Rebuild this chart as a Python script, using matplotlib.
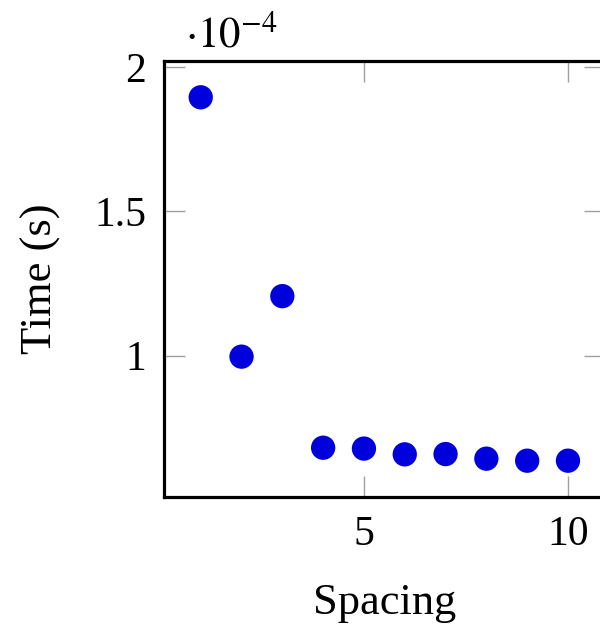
import matplotlib
matplotlib.use("Agg")
import matplotlib.pyplot as plt

spacing = [1, 2, 3, 4, 5, 6, 7, 8, 9, 10]
time_e4 = [1.896, 0.996, 1.206, 0.680, 0.677, 0.657, 0.658, 0.642, 0.635, 0.635]
xticks = [5, 10]
yticks = [1, 1.5, 2]
ytick_labels = ["1", "1.5", "2"]

plt.rcParams['font.family'] = ['Liberation Serif', 'DejaVu Serif']
plt.rcParams['mathtext.fontset'] = 'stix'

fig = plt.figure(figsize=(6.0, 6.26), dpi=100)
ax = fig.add_axes([164/600, 129/626, 440.7/600, 436/626])

ax.scatter(spacing, time_e4, s=17.5**2, color='#0000dd', edgecolors='none', zorder=3)

ax.set_xlim(0.1, 10.9)
ax.set_ylim(0.509, 2.022)
ax.set_xticks(xticks)
ax.set_xticklabels([str(t) for t in xticks])
ax.set_yticks(yticks)
ax.set_yticklabels(ytick_labels)

ax.tick_params(direction='in', length=15, width=1.0, color='#a0a0a0',
               top=True, right=True, labelsize=30, pad=13)
for s in ax.spines.values():
    s.set_linewidth(2.3)
    s.set_color('black')
ax.spines['right'].set_visible(False)

ax.set_xlabel('Spacing', fontsize=32, labelpad=21)
ax.set_ylabel('Time (s)', fontsize=32, labelpad=24)

fig.text(185/600, 1 - 47/626, r'$\cdot 10^{-4}$', fontsize=31, ha='left', va='baseline')

fig.savefig('out.png', dpi=100)
